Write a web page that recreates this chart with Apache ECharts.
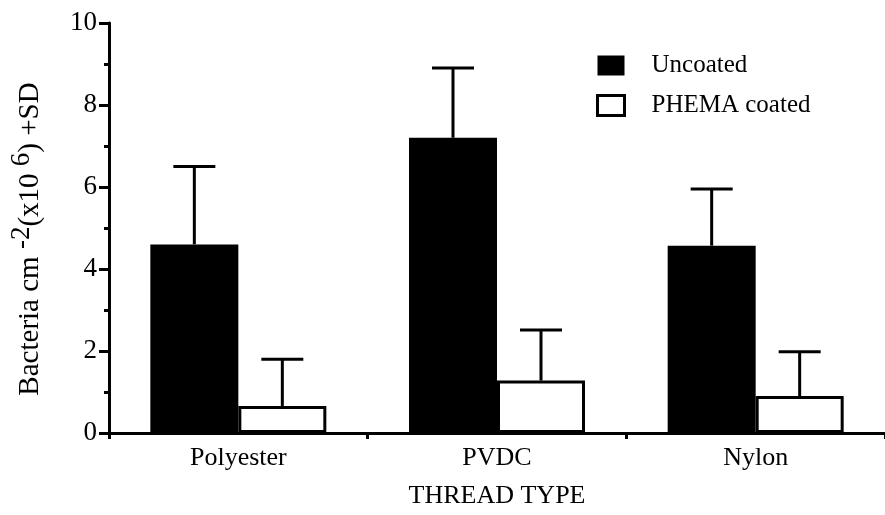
<!DOCTYPE html>
<html>
<head>
<meta charset="utf-8">
<script src="https://cdn.jsdelivr.net/npm/echarts@6/dist/echarts.min.js"></script>
<style>html,body{margin:0;padding:0;background:#fff}#c{width:885px;height:515px}</style>
</head>
<body>
<div id="c"></div>
<script>
const categories = ['Polyester', 'PVDC', 'Nylon'];
const uncoatedMean = [4.6, 7.2, 4.57];
const uncoatedSD = [1.9, 1.7, 1.38];
const coatedMean = [0.66, 1.28, 0.9];
const coatedSD = [1.14, 1.23, 1.08];
const yTicks = [0, 2, 4, 6, 8, 10];

const FONT = 'Liberation Serif';
const BAR_W = 88;

const chart = echarts.init(document.getElementById('c'));

function errData(means, sds) {
  return means.map((m, i) => [i, m, m + sds[i]]);
}
function errRender(sign) {
  return function (params, api) {
    const idx = api.value(0);
    const base = api.coord([idx, api.value(1)]);
    const top = api.coord([idx, api.value(2)]);
    const x = base[0] + sign * BAR_W / 2;
    const style = { stroke: '#000', lineWidth: 3 };
    return {
      type: 'group',
      children: [
        { type: 'line', shape: { x1: x, y1: base[1], x2: x, y2: top[1] }, style: style },
        { type: 'line', shape: { x1: x - 21, y1: top[1], x2: x + 21, y2: top[1] }, style: style }
      ]
    };
  };
}

chart.setOption({
  animation: false,
  textStyle: { fontFamily: FONT, color: '#000' },
  grid: { left: 107, right: -3, top: 23, bottom: 82, containLabel: false },
  legend: {
    orient: 'vertical',
    left: 596,
    top: 53,
    padding: 0,
    itemWidth: 27,
    itemHeight: 20,
    itemGap: 15,
    selectedMode: false,
    icon: 'rect',
    textStyle: { fontFamily: FONT, fontSize: 25, color: '#000', padding: [0, 0, 0, 22] },
    data: [
      { name: 'Uncoated', itemStyle: { color: '#000', borderWidth: 0 } },
      { name: 'PHEMA coated', itemStyle: { color: '#fff', borderColor: '#000', borderWidth: 3 } }
    ]
  },
  xAxis: [
    {
      type: 'category',
      data: categories,
      boundaryGap: true,
      name: 'THREAD TYPE',
      nameLocation: 'middle',
      nameGap: 50,
      nameTextStyle: { fontFamily: FONT, fontSize: 26, color: '#000' },
      axisLine: { lineStyle: { color: '#000', width: 3 } },
      axisTick: { alignWithLabel: true, length: 12, lineStyle: { color: '#000', width: 3 } },
      axisLabel: { fontFamily: FONT, fontSize: 26, color: '#000', margin: 12 },
      splitLine: { show: false }
    },
    {
      type: 'category',
      data: categories,
      boundaryGap: true,
      position: 'bottom',
      axisLine: { show: true, lineStyle: { color: '#000', width: 3 } },
      axisTick: { show: true, interval: 0, alignWithLabel: false, length: 6, lineStyle: { color: '#000', width: 3 } },
      axisLabel: { show: false },
      splitLine: { show: false }
    }
  ],
  yAxis: {
    type: 'value',
    min: 0,
    max: 10,
    interval: 2,
    name: '{m|Bacteria cm }{s|-2}{m|(x10 }{s|6}{m|) +SD}',
    nameLocation: 'middle',
    nameGap: 56,
    nameRotate: 90,
    nameTextStyle: {
      padding: [0, 22, 0, 0],
      rich: {
        m: { fontFamily: FONT, fontSize: 29, color: '#000' },
        s: { fontFamily: FONT, fontSize: 27, color: '#000', padding: [0, 0, 18, 0] }
      }
    },
    axisLine: { show: true, lineStyle: { color: '#000', width: 3 } },
    axisTick: { show: true, inside: false, length: 10, lineStyle: { color: '#000', width: 3 } },
    minorTick: { show: true, splitNumber: 2, length: 5, lineStyle: { color: '#000', width: 3 } },
    axisLabel: {
      fontFamily: FONT, fontSize: 27, color: '#000', margin: 12,
      formatter: function (v) { return yTicks.indexOf(v) >= 0 ? String(v) : ''; }
    },
    splitLine: { show: false }
  },
  series: [
    {
      name: 'Uncoated',
      type: 'bar',
      data: uncoatedMean,
      barWidth: BAR_W,
      barGap: '0%',
      itemStyle: { color: '#000' },
      z: 2
    },
    {
      name: 'PHEMA coated',
      type: 'bar',
      data: coatedMean,
      barWidth: BAR_W,
      barGap: '0%',
      itemStyle: { color: '#fff', borderColor: '#000', borderWidth: 3 },
      z: 2
    },
    {
      type: 'custom',
      renderItem: errRender(-1),
      data: errData(uncoatedMean, uncoatedSD),
      encode: { x: 0, y: [1, 2] },
      z: 3
    },
    {
      type: 'custom',
      renderItem: errRender(1),
      data: errData(coatedMean, coatedSD),
      encode: { x: 0, y: [1, 2] },
      z: 3
    }
  ]
});
</script>
</body>
</html>
